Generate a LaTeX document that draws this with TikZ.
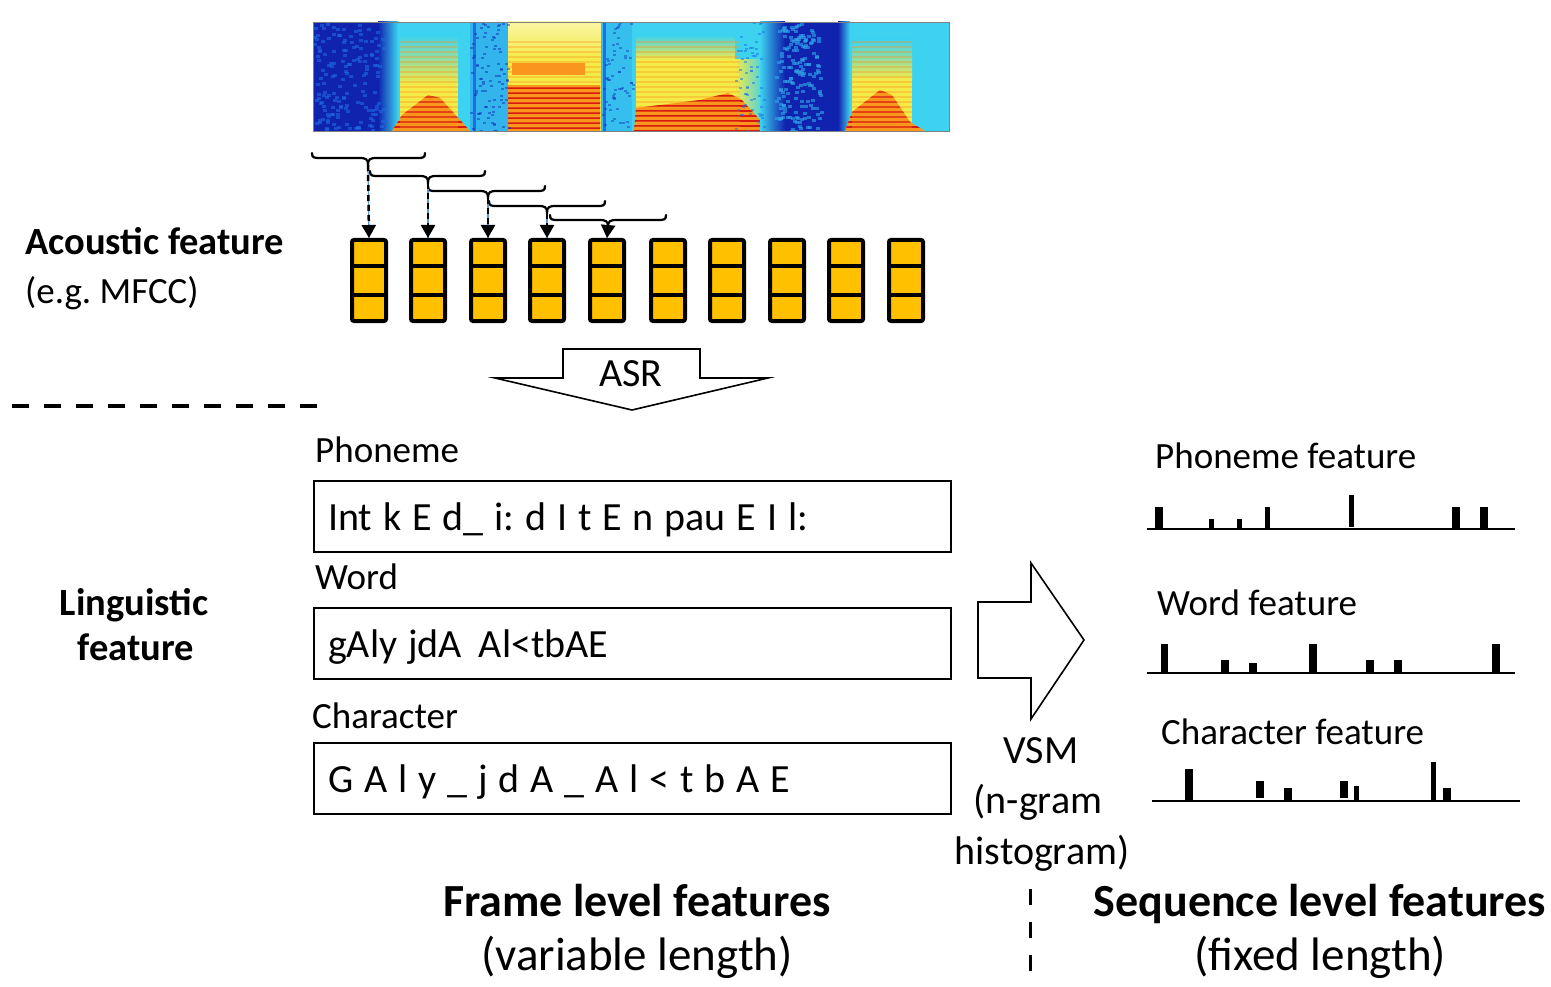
\documentclass[tikz,border=0pt]{standalone}
\usepackage{fontspec}
\setmainfont{Carlito}
\usetikzlibrary{arrows.meta}
\definecolor{gold}{HTML}{FFC000}
\definecolor{sDark}{RGB}{15,35,175}
\definecolor{sBlue}{RGB}{30,110,230}
\definecolor{sCyan}{RGB}{60,210,240}
\definecolor{sYellow}{RGB}{245,235,70}
\definecolor{sOrange}{RGB}{250,150,30}
\definecolor{sRed}{RGB}{215,25,15}
\definecolor{dashblue}{RGB}{91,155,213}
\tikzset{
  lab/.style={inner sep=0pt, font=\fontsize{37}{44}\selectfont},
  blab/.style={inner sep=0pt, font=\fontsize{38.5}{46}\selectfont\bfseries},
  big/.style={inner sep=0pt, font=\fontsize{46}{55}\selectfont\bfseries},
  bigr/.style={inner sep=0pt, font=\fontsize{47}{56}\selectfont},
  mid/.style={inner sep=0pt, font=\fontsize{40}{48}\selectfont},
  frame/.style={draw, line width=4pt, fill=gold, minimum width=34pt, minimum height=81pt, rounded corners=2pt, inner sep=0pt},
  tbox/.style={draw, line width=2pt, anchor=north west, minimum height=71pt, text width=609pt, inner xsep=14pt, inner ysep=0pt, align=left, text height=32pt, text depth=4pt, font=\fontsize{40}{48}\selectfont, execute at begin node={\frenchspacing\spaceskip=10.9pt\relax}},
  bracel/.style={line width=2.2pt, line cap=round},
  fatarrow/.style={draw, line width=1.6pt, fill=white, line join=miter},
  bar/.style={fill=black},
  hline/.style={line width=2.5pt},
  sepdash/.style={line width=4pt, dash pattern=on 17pt off 15pt},
  vdash/.style={line width=3pt, dash pattern=on 16pt off 17pt},
  bluel/.style={dashblue, line width=1.2pt},
  dashl/.style={line width=2.5pt, dash pattern=on 6pt off 4pt, -{Triangle[length=13pt,width=14pt]}},
}
\begin{document}
\frenchspacing
\begin{tikzpicture}[x=1pt,y=-1pt]
\useasboundingbox (0,0) rectangle (1551,987);

% ---------------- spectrogram ----------------
\begin{scope}
\clip (313,22) rectangle (949,131);
\fill[sDark] (313,22) rectangle (949,131);
% region A
\shade[left color=sDark, right color=sCyan] (378,22) rectangle (398,131);
\fill[sCyan] (398,22) rectangle (470,131);
\shade[top color=sCyan, bottom color=sYellow] (400,35) rectangle (458,85);
\fill[sYellow] (400,85) rectangle (458,131);
\fill[sOrange] (392,131) -- (402,115) -- (428,95) -- (440,98) -- (462,122) -- (470,131) -- cycle;
\begin{scope}
\clip (392,131) -- (402,115) -- (428,95) -- (440,98) -- (462,122) -- (470,131) -- cycle;
\foreach \y in {97,102,...,132} \draw[sRed, line width=2pt] (380,\y) -- (480,\y);
\end{scope}
% gap 1
\fill[sCyan!70!sBlue] (470,22) rectangle (508,131);
\draw[sBlue, line width=3pt] (474,22) -- (474,131);
% region B
\shade[top color=sYellow!50!white, bottom color=sYellow] (508,22) rectangle (601,60);
\fill[sYellow] (508,60) rectangle (601,131);
\fill[sOrange] (512,63) rectangle (585,75);
\fill[sOrange] (508,85) rectangle (600,131);
\begin{scope}
\clip (508,85) rectangle (600,131);
\foreach \y in {88,93,...,132} \draw[sRed, line width=2.5pt] (500,\y) -- (610,\y);
\end{scope}
% gap 2
\fill[sCyan!80!sBlue] (601,22) rectangle (632,131);
\draw[sBlue, line width=3pt] (604,22) -- (604,131);
% region C
\fill[sCyan] (632,22) rectangle (765,131);
\shade[top color=sCyan, bottom color=sYellow] (636,35) rectangle (735,60);
\fill[sYellow] (636,60) rectangle (735,131);
\shade[left color=sYellow, right color=sCyan] (735,60) rectangle (765,131);
\fill[sOrange] (634,131) -- (636,108) -- (700,100) -- (728,93) -- (742,100) -- (770,131) -- cycle;
\begin{scope}
\clip (634,131) -- (636,108) -- (700,100) -- (728,93) -- (742,100) -- (770,131) -- cycle;
\foreach \y in {96,101,...,132} \draw[sRed, line width=2pt] (630,\y) -- (775,\y);
\end{scope}
% region D
\shade[left color=sCyan, right color=sDark] (760,22) rectangle (785,131);
\fill[sDark] (785,22) rectangle (843,131);
% region E
\shade[left color=sDark, right color=sCyan] (838,22) rectangle (850,131);
\fill[sCyan] (850,22) rectangle (949,131);
\shade[top color=sCyan, bottom color=sYellow] (852,40) rectangle (912,80);
\fill[sYellow] (852,80) rectangle (912,131);
\fill[sOrange] (845,131) -- (852,112) -- (880,90) -- (892,95) -- (910,122) -- (925,131) -- cycle;
\begin{scope}
\clip (845,131) -- (852,112) -- (880,90) -- (892,95) -- (910,122) -- (925,131) -- cycle;
\foreach \y in {92,97,...,132} \draw[sRed, line width=2pt] (840,\y) -- (930,\y);
\end{scope}
% faint harmonics
\foreach \y in {42,47,...,130} \draw[sOrange, opacity=0.35, line width=1.2pt] (400,\y) -- (458,\y) (508,\y) -- (601,\y) (636,\y) -- (740,\y) (852,\y) -- (912,\y);
% speckle noise
\pgfmathsetseed{7}
\foreach \k in {1,...,160}{
  \pgfmathsetmacro\rx{313+rnd*70}\pgfmathsetmacro\ry{22+rnd*109}
  \fill[sBlue, opacity=0.55] (\rx,\ry) rectangle ++(4,3);
}
\foreach \k in {1,...,170}{
  \pgfmathsetmacro\rx{775+rnd*45}\pgfmathsetmacro\ry{22+rnd*109}
  \fill[sCyan!60!sBlue, opacity=0.6] (\rx,\ry) rectangle ++(4,3);
}
\foreach \k in {1,...,90}{
  \pgfmathsetmacro\rx{470+rnd*38}\pgfmathsetmacro\ry{22+rnd*109}
  \fill[sDark, opacity=0.45] (\rx,\ry) rectangle ++(3,2);
}
\foreach \k in {1,...,60}{
  \pgfmathsetmacro\rx{601+rnd*31}\pgfmathsetmacro\ry{22+rnd*109}
  \fill[sDark, opacity=0.4] (\rx,\ry) rectangle ++(3,2);
}
\foreach \k in {1,...,60}{
  \pgfmathsetmacro\rx{735+rnd*28}\pgfmathsetmacro\ry{22+rnd*109}
  \fill[sBlue, opacity=0.5] (\rx,\ry) rectangle ++(3,2);
}
\end{scope}
\draw[gray, line width=0.8pt] (313,22) rectangle (949,131);

% ---------------- braces ----------------
\foreach \a/\m/\b/\t [count=\i] in {312/368/425/153, 370/428/485/171, 428/488/545/186, 489/547/605/201, 550/608/666/215}{
  \draw[bracel] (\a,\t) .. controls (\a,\t+5) and (\a+2,\t+5) .. (\a+9,\t+5) -- (\m-9,\t+5)
     .. controls (\m-2,\t+5) and (\m,\t+6) .. (\m,\t+12)
     .. controls (\m,\t+6) and (\m+2,\t+5) .. (\m+9,\t+5) -- (\b-9,\t+5)
     .. controls (\b-2,\t+5) and (\b,\t+5) .. (\b,\t);
  \coordinate (bt\i) at (\m,\t+12);
}

% ---------------- frames ----------------
\foreach \x [count=\i] in {369,428,488,547,607,668,727,787,846,906}{
  \node[frame] (f\i) at (\x,280.5) {};
  \draw[line width=3.5pt] (\x-17,266) -- (\x+17,266) (\x-17,295) -- (\x+17,295);
}
\foreach \i in {1,...,5}{
  \draw[bluel] (bt\i) -- (f\i.north);
  \draw[dashl] (bt\i) -- (f\i.north);
}

% ---------------- left labels ----------------
\node[blab, anchor=base west] (acu) at (25,255) {Acoustic feature};
\node[lab, anchor=base west] (mfcc) at (25,304) {(e.g. MFCC)};
\node[blab, anchor=base] (ling1) at (134,615) {Linguistic};
\node[blab, anchor=base] (ling2) at (136,660) {feature};
\coordinate (sepL) at (12,406);
\coordinate (sepR) at (324,406);
\draw[sepdash] (sepL) -- (sepR);

% ---------------- ASR arrow ----------------
\draw[fatarrow] (563,349) -- (700,349) -- (700,378) -- (768,378) -- (632,410) -- (495,378) -- (563,378) -- cycle;
\node[mid, anchor=base] (asr) at (631,386) {ASR};

% ---------------- linguistic boxes ----------------
\node[lab, anchor=base west] (lph) at (315,462) {Phoneme};
\node[tbox] (phbox) at (313,480) {Int k E d\_ i: d I t E n pau E I l:};
\node[lab, anchor=base west] (lwd) at (315,589) {Word};
\node[tbox] (wdbox) at (313,607) {gAly jdA\hspace{17pt}Al<tbAE};
\node[lab, anchor=base west] (lch) at (312,728) {Character};
\node[tbox] (chbox) at (313,742) {G A l y \_ j d A \_ A l < t b A E};

% ---------------- VSM arrow ----------------
\draw[fatarrow] (978,602) -- (1031,602) -- (1031,563) -- (1084,640) -- (1031,719) -- (1031,678) -- (978,678) -- cycle;
\node[mid, anchor=base] (vsm1) at (1041,763) {VSM};
\node[mid, anchor=base] (vsm2) at (1038,813) {(n-gram};
\node[mid, anchor=base] (vsm3) at (1042,864) {histogram)};

% ---------------- histograms ----------------
\node[lab, anchor=base west] (hph) at (1155,468) {Phoneme feature};
\coordinate (hpL) at (1147,529); \coordinate (hpR) at (1515,529);
\draw[hline] (hpL) -- (hpR);
\foreach \a/\b/\t/\u in {1155/1163/507/529, 1209/1214/519/529, 1237/1242/519/529, 1265/1270/507/529, 1349/1354/495/527, 1452/1460/507/529, 1480/1488/507/529}
  \fill[bar] (\a,\t) rectangle (\b,\u);

\node[lab, anchor=base west] (hwd) at (1157,615) {Word feature};
\coordinate (hwL) at (1147,673); \coordinate (hwR) at (1515,673);
\draw[hline] (hwL) -- (hwR);
\foreach \a/\b/\t in {1161/1168/644, 1221/1229/660, 1249/1257/663, 1309/1317/644, 1366/1374/660, 1394/1402/660, 1492/1500/644}
  \fill[bar] (\a,\t) rectangle (\b,673);

\node[lab, anchor=base west] (hch) at (1161,744) {Character feature};
\coordinate (hcL) at (1152,801); \coordinate (hcR) at (1520,801);
\draw[hline] (hcL) -- (hcR);
\foreach \a/\b/\t/\u in {1185/1193/769/801, 1256/1264/781/798, 1284/1292/788/801, 1340/1348/781/798, 1354/1359/786/801, 1431/1436/762/801, 1443/1451/788/801}
  \fill[bar] (\a,\t) rectangle (\b,\u);

% ---------------- bottom ----------------
\coordinate (vdT) at (1030,889);
\coordinate (vdB) at (1030,976);
\draw[vdash] (vdT) -- (vdB);
\node[big, anchor=base] (frm) at (637,916) {Frame level features};
\node[bigr, anchor=base] (frm2) at (637,970) {(variable length)};
\node[big, anchor=base] (seq) at (1320,916) {Sequence level features};
\node[bigr, anchor=base] (seq2) at (1320,970) {(fixed length)};
\end{tikzpicture}
\end{document}
